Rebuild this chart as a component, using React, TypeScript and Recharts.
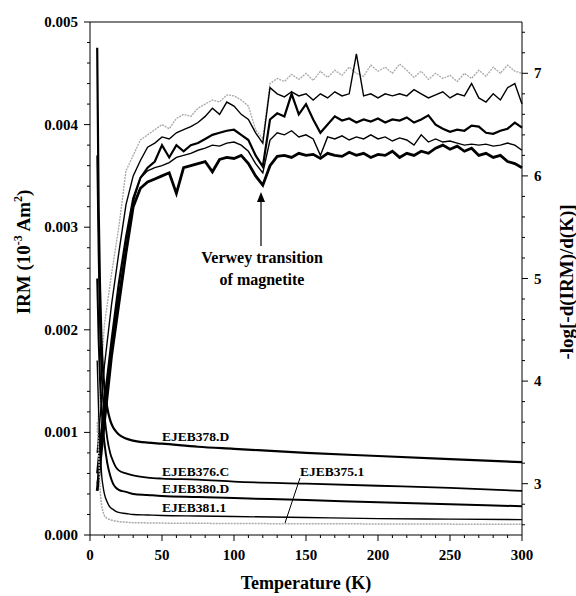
import { Line, LineChart, XAxis, YAxis } from "recharts";

// temperature grid (K) for the derivative curves
const dTemps = [
  5, 10, 15, 20, 25, 30, 35, 40, 45, 50,
  55, 60, 65, 70, 75, 80, 85, 90, 95, 100,
  105, 110, 115, 120, 125, 130, 135, 140, 145, 150,
  155, 160, 165, 170, 175, 180, 185, 190, 195, 200,
  205, 210, 215, 220, 225, 230, 235, 240, 245, 250,
  255, 260, 265, 270, 275, 280, 285, 290, 295, 300,
];

// -log[-d(IRM)/d(K)] curves, right axis
const derivGray = [
  3.5, 4.55, 5.05, 5.5, 6.05, 6.2, 6.35, 6.4, 6.45, 6.5,
  6.46, 6.56, 6.6, 6.58, 6.66, 6.7, 6.74, 6.72, 6.79, 6.78,
  6.74, 6.68, 6.45, 6.36, 6.9, 6.95, 6.92, 6.99, 6.94, 7.0,
  6.93, 7.02, 6.96, 7.03, 6.98, 7.06, 7.0, 6.97, 7.08, 7.02,
  7.06, 7.0, 7.09, 7.03, 6.96, 7.02, 6.94, 7.0, 6.95, 6.98,
  6.92, 7.0, 6.95, 7.03, 6.97, 7.06, 7.0, 7.08, 7.02, 7.0,
];
const derivA = [
  3.3, 4.15, 4.75, 5.25, 5.72, 6.0, 6.15, 6.28, 6.32, 6.38,
  6.36, 6.42, 6.45, 6.48, 6.52, 6.58, 6.66, 6.6, 6.72, 6.68,
  6.6, 6.55, 6.42, 6.32, 6.86, 6.8, 6.77, 6.82, 6.78, 6.8,
  6.74, 6.8, 6.76, 6.82, 6.78, 6.8, 7.19, 6.78, 6.8, 6.76,
  6.8, 6.78, 6.8, 6.78, 6.84, 6.8, 6.76, 6.79, 6.82, 6.76,
  6.8, 6.78, 6.9, 6.76, 6.72, 6.8, 6.74, 6.86, 6.9, 6.7,
];
const derivB = [
  3.1, 3.8, 4.4, 4.95, 5.4, 5.78, 5.98, 6.08, 6.14, 6.3,
  6.18, 6.3, 6.24, 6.3, 6.32, 6.36, 6.4, 6.42, 6.44, 6.45,
  6.4, 6.35, 6.2, 6.09, 6.55, 6.61, 6.58, 6.8, 6.6, 6.7,
  6.55, 6.42, 6.5, 6.58, 6.54, 6.56, 6.52, 6.55, 6.53, 6.56,
  6.52, 6.55, 6.54, 6.57, 6.52, 6.55, 6.59, 6.5, 6.46, 6.43,
  6.45, 6.44, 6.49, 6.48, 6.42, 6.41, 6.44, 6.46, 6.52, 6.47,
];
const derivC = [
  3.0, 3.7, 4.35, 4.85, 5.3, 5.75, 5.98, 6.05, 6.08, 6.1,
  6.13, 6.18, 6.2, 6.22, 6.25, 6.27, 6.3, 6.29, 6.32, 6.33,
  6.3, 6.24, 6.12, 6.03, 6.35, 6.42, 6.4, 6.44, 6.38, 6.4,
  6.36, 6.2, 6.38, 6.36, 6.39, 6.35, 6.38, 6.36, 6.4, 6.36,
  6.38, 6.34, 6.37, 6.35, 6.3, 6.4, 6.33, 6.36, 6.33, 6.34,
  6.32, 6.3, 6.31, 6.3, 6.31, 6.29, 6.3, 6.32, 6.3, 6.25,
];
const derivD = [
  2.93, 3.6, 4.25, 4.75, 5.25, 5.7, 5.88, 5.94, 5.97, 6.0,
  6.03, 5.83, 6.08, 6.1, 6.12, 6.14, 6.04, 6.16, 6.18, 6.17,
  6.2, 6.12, 6.0, 5.91, 6.1, 6.19, 6.2, 6.18, 6.22, 6.2,
  6.21, 6.17, 6.22, 6.2, 6.19, 6.23, 6.2, 6.22, 6.18, 6.21,
  6.2, 6.24, 6.18, 6.22, 6.2, 6.24, 6.22, 6.27, 6.3, 6.26,
  6.29, 6.24, 6.27, 6.2, 6.22, 6.18, 6.2, 6.14, 6.12, 6.08,
];

// IRM curves, left axis
const irmTemps = [5, 6, 7, 8, 9, 10, 12, 14, 16, 18, 20, 25, 30, 40, 50, 75, 100, 150, 200, 250, 300];
const irm378D = [0.00475, 0.0032, 0.0024, 0.0019, 0.00162, 0.00145, 0.00124, 0.00112, 0.00105, 0.00101, 0.00098, 0.00094, 0.00092, 0.0009, 0.00089, 0.00086, 0.00084, 0.0008, 0.00077, 0.00074, 0.00071];
const irm376C = [0.0037, 0.0027, 0.002, 0.0016, 0.00135, 0.00118, 0.00094, 0.0008, 0.00072, 0.00066, 0.00063, 0.0006, 0.00058, 0.00056, 0.00055, 0.00054, 0.00052, 0.0005, 0.00048, 0.00046, 0.00043];
const irm380D = [0.0025, 0.0019, 0.0015, 0.00125, 0.00105, 0.0009, 0.0007, 0.00058, 0.0005, 0.00046, 0.00044, 0.00042, 0.0004, 0.00039, 0.00038, 0.00037, 0.00036, 0.00034, 0.00032, 0.0003, 0.00028];
const irm3811 = [0.0017, 0.0012, 0.0009, 0.0006, 0.00048, 0.0004, 0.00032, 0.00027, 0.00025, 0.00023, 0.00022, 0.00021, 0.0002, 0.000195, 0.00019, 0.000185, 0.00018, 0.00017, 0.00016, 0.000155, 0.00015];
const irm3751 = [0.0011, 0.0008, 0.00045, 0.0003, 0.00023, 0.00019, 0.00016, 0.00015, 0.00014, 0.000135, 0.00013, 0.000125, 0.00012, 0.000118, 0.000116, 0.000114, 0.000112, 0.00011, 0.000108, 0.000106, 0.000104];

const xMajor = [0, 50, 100, 150, 200, 250, 300];
const leftMajor = ["0.000", "0.001", "0.002", "0.003", "0.004", "0.005"];
const rightMajor = [3, 4, 5, 6, 7];

// minor tick positions
const xTicks = Array.from({ length: 31 }, (_, i) => i * 10);
const leftTicks = Array.from({ length: 26 }, (_, i) => +(i * 0.0002).toFixed(4));
const rightTicks = Array.from({ length: 25 }, (_, i) => +(2.6 + i * 0.2).toFixed(1));

const FONT = "'Liberation Serif', 'Times New Roman', serif";

const pts = (ts: number[], vs: number[]) => ts.map((t, i) => ({ t, v: vs[i] }));

const XTickB = (p: any) => {
  const v = p.payload.value;
  const major = xMajor.includes(v);
  return (
    <g>
      <line x1={p.x} x2={p.x} y1={p.y} y2={p.y + (major ? 6 : 3)} stroke="#000" />
      {major && (
        <text x={p.x} y={p.y + 25} textAnchor="middle" fontFamily={FONT} fontWeight="bold" fontSize={15}>
          {v}
        </text>
      )}
    </g>
  );
};

const XTickT = (p: any) => {
  const major = xMajor.includes(p.payload.value);
  return <line x1={p.x} x2={p.x} y1={p.y} y2={p.y - (major ? 6 : 3)} stroke="#000" />;
};

const LTick = (p: any) => {
  const v = p.payload.value;
  const lab = v.toFixed(3);
  const major = leftMajor.includes(lab) && Math.abs(v * 1000 - Math.round(v * 1000)) < 1e-6;
  return (
    <g>
      <line x1={p.x - (major ? 6 : 3)} x2={p.x} y1={p.y} y2={p.y} stroke="#000" />
      {major && (
        <text x={p.x - 12} y={p.y + 5} textAnchor="end" fontFamily={FONT} fontWeight="bold" fontSize={15}>
          {lab}
        </text>
      )}
    </g>
  );
};

const RTick = (p: any) => {
  const v = p.payload.value;
  const major = rightMajor.includes(v);
  return (
    <g>
      <line x1={p.x} x2={p.x + (major ? 6 : 3)} y1={p.y} y2={p.y} stroke="#000" />
      {major && (
        <text x={p.x + 12} y={p.y + 5} textAnchor="start" fontFamily={FONT} fontWeight="bold" fontSize={15}>
          {v}
        </text>
      )}
    </g>
  );
};

const labStyle = { fontFamily: FONT, fontWeight: "bold" as const, fontSize: 13.5 };

export default function App() {
  return (
    <div style={{ position: "absolute", left: 0, top: 0, width: 576, height: 596, background: "#fff" }}>
      <LineChart width={576} height={596} margin={{ top: 21, right: 0, bottom: 0, left: 0 }}>
        <XAxis
          xAxisId="b"
          type="number"
          dataKey="t"
          domain={[0, 300]}
          ticks={xTicks}
          interval={0}
          height={61}
          tickSize={0}
          tickMargin={0}
          tick={<XTickB />}
          axisLine={{ stroke: "#000" }}
        />
        <XAxis
          xAxisId="top"
          orientation="top"
          type="number"
          dataKey="t"
          domain={[0, 300]}
          ticks={xTicks}
          interval={0}
          height={1}
          tickSize={0}
          tickMargin={0}
          tick={<XTickT />}
          axisLine={{ stroke: "#000" }}
        />
        <YAxis
          yAxisId="l"
          type="number"
          domain={[0, 0.005]}
          ticks={leftTicks}
          interval={0}
          width={90}
          tickSize={0}
          tickMargin={0}
          tick={<LTick />}
          axisLine={{ stroke: "#000" }}
          allowDataOverflow
        />
        <YAxis
          yAxisId="r"
          orientation="right"
          type="number"
          domain={[2.5, 7.5]}
          ticks={rightTicks}
          interval={0}
          width={54}
          tickSize={0}
          tickMargin={0}
          tick={<RTick />}
          axisLine={{ stroke: "#000" }}
          allowDataOverflow
        />

        <Line xAxisId="b" yAxisId="r" data={pts(dTemps, derivGray)} dataKey="v" type="linear" stroke="#a8a8a8" strokeWidth={1.3} strokeDasharray="2 1" dot={false} isAnimationActive={false} />
        <Line xAxisId="b" yAxisId="r" data={pts(dTemps, derivA)} dataKey="v" type="linear" stroke="#000" strokeWidth={1.4} dot={false} isAnimationActive={false} />
        <Line xAxisId="b" yAxisId="r" data={pts(dTemps, derivB)} dataKey="v" type="linear" stroke="#000" strokeWidth={2.2} dot={false} isAnimationActive={false} />
        <Line xAxisId="b" yAxisId="r" data={pts(dTemps, derivC)} dataKey="v" type="linear" stroke="#000" strokeWidth={1.4} dot={false} isAnimationActive={false} />
        <Line xAxisId="b" yAxisId="r" data={pts(dTemps, derivD)} dataKey="v" type="linear" stroke="#000" strokeWidth={2.8} dot={false} isAnimationActive={false} />

        <Line xAxisId="b" yAxisId="l" data={pts(irmTemps, irm3751)} dataKey="v" type="monotone" stroke="#a8a8a8" strokeWidth={1.5} strokeDasharray="2 1" dot={false} isAnimationActive={false} />
        <Line xAxisId="b" yAxisId="l" data={pts(irmTemps, irm3811)} dataKey="v" type="monotone" stroke="#000" strokeWidth={1.4} dot={false} isAnimationActive={false} />
        <Line xAxisId="b" yAxisId="l" data={pts(irmTemps, irm380D)} dataKey="v" type="monotone" stroke="#000" strokeWidth={2} dot={false} isAnimationActive={false} />
        <Line xAxisId="b" yAxisId="l" data={pts(irmTemps, irm376C)} dataKey="v" type="monotone" stroke="#000" strokeWidth={1.8} dot={false} isAnimationActive={false} />
        <Line xAxisId="b" yAxisId="l" data={pts(irmTemps, irm378D)} dataKey="v" type="monotone" stroke="#000" strokeWidth={2.2} dot={false} isAnimationActive={false} />
      </LineChart>

      <svg width={576} height={596} style={{ position: "absolute", left: 0, top: 0, pointerEvents: "none" }}>
        <text x={306} y={589} textAnchor="middle" fontFamily={FONT} fontWeight="bold" fontSize={18}>
          Temperature (K)
        </text>
        <text transform="translate(30,252) rotate(-90)" textAnchor="middle" fontFamily={FONT} fontWeight="bold" fontSize={19}>
          IRM (10
          <tspan dy={-8} fontSize={12}>-3</tspan>
          <tspan dy={8}> Am</tspan>
          <tspan dy={-8} fontSize={12}>2</tspan>
          <tspan dy={8}>)</tspan>
        </text>
        <text transform="translate(573,282) rotate(-90)" textAnchor="middle" fontFamily={FONT} fontWeight="bold" fontSize={19}>
          -log[-d(IRM)/d(K)]
        </text>

        <text x={262} y={263} textAnchor="middle" fontFamily={FONT} fontWeight="bold" fontSize={16}>
          Verwey transition
        </text>
        <text x={262} y={285} textAnchor="middle" fontFamily={FONT} fontWeight="bold" fontSize={16}>
          of magnetite
        </text>
        <line x1={261} x2={261} y1={246} y2={200} stroke="#000" strokeWidth={1.2} />
        <path d="M261 192 L257 202 L265 202 Z" fill="#000" />

        <text x={162} y={441} style={labStyle}>EJEB378.D</text>
        <text x={162} y={476} style={labStyle}>EJEB376.C</text>
        <text x={162} y={493} style={labStyle}>EJEB380.D</text>
        <text x={162} y={512} style={labStyle}>EJEB381.1</text>
        <text x={300} y={476} style={labStyle}>EJEB375.1</text>
        <line x1={300} y1={478} x2={285} y2={523} stroke="#000" strokeWidth={1} />
      </svg>
    </div>
  );
}
